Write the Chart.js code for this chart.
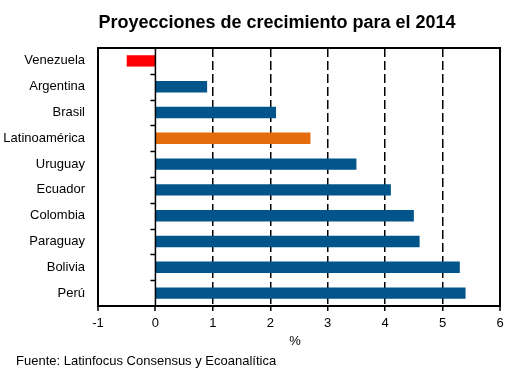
<!DOCTYPE html>
<html>
<head>
<meta charset="utf-8">
<script src="https://cdn.jsdelivr.net/npm/chart.js@4/dist/chart.umd.min.js"></script>
<style>
  html, body { margin: 0; padding: 0; background: #fff; }
  #wrap { width: 513px; height: 375px; position: relative; }
</style>
</head>
<body>
<div id="wrap"><canvas id="chart"></canvas></div>
<script>
// datos
const paises = ['Venezuela','Argentina','Brasil','Latinoamérica','Uruguay','Ecuador','Colombia','Paraguay','Bolivia','Perú'];
const crecimiento = [-0.5, 0.9, 2.1, 2.7, 3.5, 4.1, 4.5, 4.6, 5.3, 5.4];
const colores = ['#FF0000','#01558B','#01558B','#E46C0A','#01558B','#01558B','#01558B','#01558B','#01558B','#01558B'];
const ejeMin = -1, ejeMax = 6;

const titulo = 'Proyecciones de crecimiento para el 2014';
const fuente = 'Fuente: Latinfocus Consensus y Ecoanalítica';
const FONT = '"Liberation Sans", Arial, sans-serif';

// marco, eje en 0, textos extra
const extras = {
  id: 'extras',
  afterDatasetsDraw(chart) {
    const { ctx, chartArea: a, scales: { x, y } } = chart;
    ctx.save();
    ctx.strokeStyle = '#000';
    // eje vertical en 0 con marcas
    const x0 = x.getPixelForValue(0);
    ctx.lineWidth = 1.5;
    ctx.beginPath();
    ctx.moveTo(x0, a.top); ctx.lineTo(x0, a.bottom);
    for (let i = 1; i < paises.length; i++) {
      const yy = Math.round((y.getPixelForTick(i - 1) + y.getPixelForTick(i)) / 2) + 0.5;
      ctx.moveTo(x0 - 5, yy); ctx.lineTo(x0, yy);
    }
    ctx.stroke();
    // marco
    ctx.lineWidth = 2;
    ctx.strokeRect(a.left, a.top, a.right - a.left, a.bottom - a.top);
    ctx.restore();
  },
  afterDraw(chart) {
    const { ctx } = chart;
    ctx.save();
    ctx.fillStyle = '#000';
    ctx.textBaseline = 'middle';
    ctx.textAlign = 'center';
    ctx.font = 'bold 18px ' + FONT;
    ctx.fillText(titulo, 277, 23, 361);
    ctx.font = '13px ' + FONT;
    ctx.fillText('%', 295, 341);
    ctx.textAlign = 'left';
    ctx.fillText(fuente, 16, 361);
    ctx.restore();
  }
};

new Chart(document.getElementById('chart'), {
  type: 'bar',
  data: {
    labels: paises,
    datasets: [{
      data: crecimiento,
      backgroundColor: colores,
      borderWidth: 0,
      categoryPercentage: 1,
      barPercentage: 0.44
    }]
  },
  options: {
    indexAxis: 'y',
    responsive: true,
    maintainAspectRatio: false,
    animation: false,
    layout: { padding: { top: 48, right: 13, left: 0, bottom: 0 } },
    plugins: { legend: { display: false }, tooltip: { enabled: false }, title: { display: false } },
    scales: {
      x: {
        min: ejeMin,
        max: ejeMax,
        afterFit: s => { s.height = 69; },
        ticks: { stepSize: 1, color: '#000', padding: 5, font: { family: FONT, size: 13 } },
        border: {
          display: false,
          dash: c => (c.tick && c.tick.value > 0 && c.tick.value < ejeMax) ? [9, 4] : []
        },
        grid: {
          color: '#000',
          lineWidth: c => (c.tick && c.tick.value > 0 && c.tick.value < ejeMax) ? 1.5 : 0,
          tickColor: '#000',
          tickWidth: 1.5,
          tickLength: 5
        }
      },
      y: {
        afterFit: s => { s.width = 98; },
        ticks: { color: '#000', padding: 13, font: { family: FONT, size: 13 } },
        border: { display: false },
        grid: { display: false, drawTicks: false }
      }
    }
  },
  plugins: [extras]
});
</script>
</body>
</html>
